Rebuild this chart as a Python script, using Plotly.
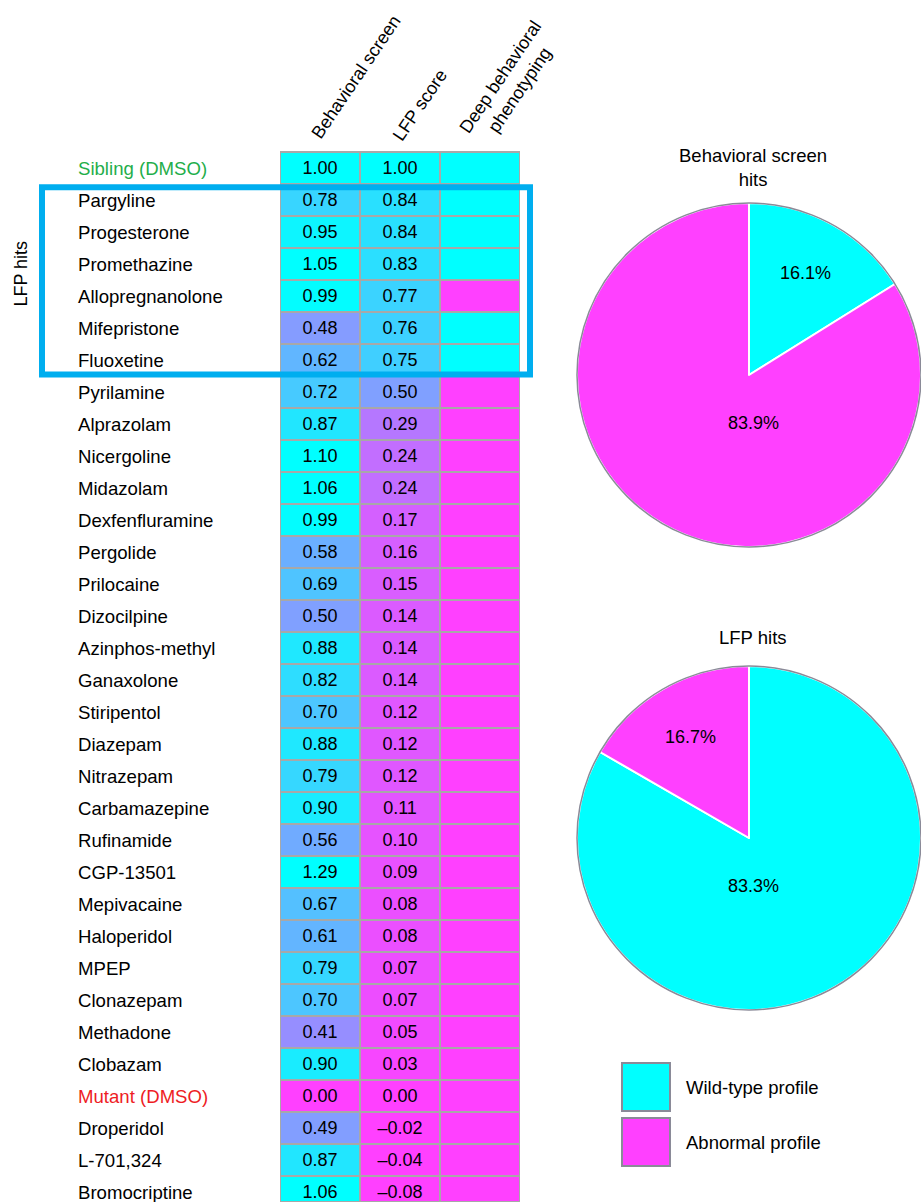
import math
import plotly.graph_objects as go

# ---------------- data ----------------
compounds = ["Sibling (DMSO)", "Pargyline", "Progesterone", "Promethazine", "Allopregnanolone",
             "Mifepristone", "Fluoxetine", "Pyrilamine", "Alprazolam", "Nicergoline", "Midazolam",
             "Dexfenfluramine", "Pergolide", "Prilocaine", "Dizocilpine", "Azinphos-methyl",
             "Ganaxolone", "Stiripentol", "Diazepam", "Nitrazepam", "Carbamazepine", "Rufinamide",
             "CGP-13501", "Mepivacaine", "Haloperidol", "MPEP", "Clonazepam", "Methadone",
             "Clobazam", "Mutant (DMSO)", "Droperidol", "L-701,324", "Bromocriptine"]
behavioral = [1.00, 0.78, 0.95, 1.05, 0.99, 0.48, 0.62, 0.72, 0.87, 1.10, 1.06, 0.99, 0.58, 0.69,
              0.50, 0.88, 0.82, 0.70, 0.88, 0.79, 0.90, 0.56, 1.29, 0.67, 0.61, 0.79, 0.70, 0.41,
              0.90, 0.00, 0.49, 0.87, 1.06]
lfp_score = [1.00, 0.84, 0.84, 0.83, 0.77, 0.76, 0.75, 0.50, 0.29, 0.24, 0.24, 0.17, 0.16, 0.15,
             0.14, 0.14, 0.14, 0.12, 0.12, 0.12, 0.11, 0.10, 0.09, 0.08, 0.08, 0.07, 0.07, 0.05,
             0.03, 0.00, -0.02, -0.04, -0.08]
deep_profile = ["Wild-type", "Wild-type", "Wild-type", "Wild-type", "Abnormal", "Wild-type",
                "Wild-type"] + ["Abnormal"] * 26
columns = ["Behavioral screen", "LFP score", "Deep behavioral<br>phenotyping"]
label_colors = {"Sibling (DMSO)": "#1fae4b", "Mutant (DMSO)": "#ee1c24"}

pie_labels = ["Wild-type profile", "Abnormal profile"]
pie_behavioral_counts = [5, 26]
pie_lfp_counts = [5, 1]

CYAN = "#00ffff"
MAGENTA = "#ff40ff"
GRID = "#a8a8a8"
FONT = "Liberation Sans, Arial, sans-serif"

W, H = 921, 1202


def px_x(p):
    return p / W


def px_y(p):
    return 1 - p / H


n = len(compounds)
z = [[behavioral[i], lfp_score[i], 1.0 if deep_profile[i] == "Wild-type" else 0.0] for i in range(n)]


def fmt(v):
    return f"{v:.2f}".replace("-", "\u2013")


text = [[fmt(behavioral[i]), fmt(lfp_score[i]), ""] for i in range(n)]

fig = go.Figure()
fig.add_trace(go.Heatmap(
    z=z, x=[0, 1, 2], y=list(range(n)), text=text, texttemplate="%{text}",
    textfont=dict(family=FONT, size=18, color="black"),
    colorscale=[[0, MAGENTA], [1, CYAN]], zmin=0, zmax=1, showscale=False,
    xgap=2, ygap=2, hoverinfo="skip", xaxis="x", yaxis="y"))

# heatmap area: x 280-520 px, top at 152 px, rows 32 px
top_px = 152
row_h = 32
bottom_val = -0.5 + (H - top_px) / row_h
fig.update_layout(
    xaxis=dict(domain=[px_x(280), px_x(520)], range=[-0.5, 2.5], visible=False, fixedrange=True),
    yaxis=dict(domain=[0, px_y(top_px)], range=[bottom_val, -0.5], visible=False, fixedrange=True),
)

annotations = []
# row labels
for i, c in enumerate(compounds):
    annotations.append(dict(x=px_x(76), xref="paper", y=i + 0.03, yref="y", text=c, showarrow=False,
                            xanchor="left", yanchor="middle",
                            font=dict(family=FONT, size=18.6, color=label_colors.get(c, "black"))))
# column headers (rotated)
header_pos = [(356, 77), (420, 105), (510, 84)]
for (hx, hy), col in zip(header_pos, columns):
    annotations.append(dict(x=px_x(hx), y=px_y(hy), xref="paper", yref="paper", text=col,
                            showarrow=False, textangle=-56, xanchor="center", yanchor="middle",
                            font=dict(family=FONT, size=18, color="black")))
# LFP hits side label
annotations.append(dict(x=px_x(21), y=3.3, xref="paper", yref="y", text="LFP hits",
                        showarrow=False, textangle=-90, xanchor="center", yanchor="middle",
                        font=dict(family=FONT, size=18, color="black")))

shapes = []
# outer border of heatmap
shapes.append(dict(type="rect", xref="x", yref="paper", x0=-0.5, x1=2.5, y0=0, y1=px_y(top_px),
                   line=dict(color=GRID, width=2), layer="above"))
# blue highlight box around LFP hits
shapes.append(dict(type="rect", xref="paper", yref="y", x0=px_x(42), x1=px_x(530), y0=0.6, y1=6.45,
                   line=dict(color="#00aeef", width=6), layer="above"))

# ---------------- pies ----------------
pie_r = 172
pie_cx = 749
pies = [(pie_behavioral_counts, 375, ["Behavioral screen", "hits"], 143),
        (pie_lfp_counts, 838, ["LFP hits"], 625)]
for k, (vals, cy, title_lines, ty) in enumerate(pies):
    fig.add_trace(go.Pie(
        labels=pie_labels, values=vals, sort=False, direction="clockwise", rotation=0,
        marker=dict(colors=[CYAN, MAGENTA], line=dict(color="white", width=2)),
        textinfo="none",
        domain=dict(x=[px_x(pie_cx - pie_r), px_x(pie_cx + pie_r)],
                    y=[px_y(cy + pie_r), px_y(cy - pie_r)]),
        showlegend=False, hoverinfo="skip"))
    shapes.append(dict(type="circle", xref="paper", yref="paper",
                       x0=px_x(pie_cx - pie_r), x1=px_x(pie_cx + pie_r),
                       y0=px_y(cy + pie_r), y1=px_y(cy - pie_r),
                       line=dict(color="#8a8a98", width=1.5), layer="above"))
    annotations.append(dict(x=px_x(753), y=px_y(ty), xref="paper", yref="paper",
                            text="<br>".join(title_lines), showarrow=False,
                            xanchor="center", yanchor="top",
                            font=dict(family=FONT, size=18.5, color="black")))
    # percentage labels: small slices along their mid-angle, large slices below centre
    total = sum(vals)
    start = 0.0
    for v in vals:
        frac = v / total
        mid = math.radians((start + frac / 2) * 360)
        if frac < 0.5:
            lx = pie_cx + 0.68 * pie_r * math.sin(mid)
            ly = cy - 0.68 * pie_r * math.cos(mid)
        else:
            lx = pie_cx + 4
            ly = cy + 0.28 * pie_r
        annotations.append(dict(x=px_x(lx), y=px_y(ly), xref="paper", yref="paper",
                                text=f"{100 * frac:.1f}%", showarrow=False,
                                xanchor="center", yanchor="middle",
                                font=dict(family=FONT, size=18, color="black")))
        start += frac

# ---------------- legend ----------------
legend_rows = [(pie_labels[0], CYAN, 1087), (pie_labels[1], MAGENTA, 1142)]
for lab, col, ly in legend_rows:
    shapes.append(dict(type="rect", xref="paper", yref="paper", x0=px_x(622), x1=px_x(670),
                       y0=px_y(ly + 24), y1=px_y(ly - 24), fillcolor=col,
                       line=dict(color="#8a8a98", width=2)))
    annotations.append(dict(x=px_x(684), y=px_y(ly), xref="paper", yref="paper", text=lab,
                            showarrow=False, xanchor="left", yanchor="middle",
                            font=dict(family=FONT, size=18.5, color="black")))

fig.update_layout(
    width=W, height=H, margin=dict(l=0, r=0, t=0, b=0),
    paper_bgcolor="white", plot_bgcolor=GRID,
    annotations=annotations, shapes=shapes, showlegend=False,
    font=dict(family=FONT),
)

fig.write_html("out.html")
